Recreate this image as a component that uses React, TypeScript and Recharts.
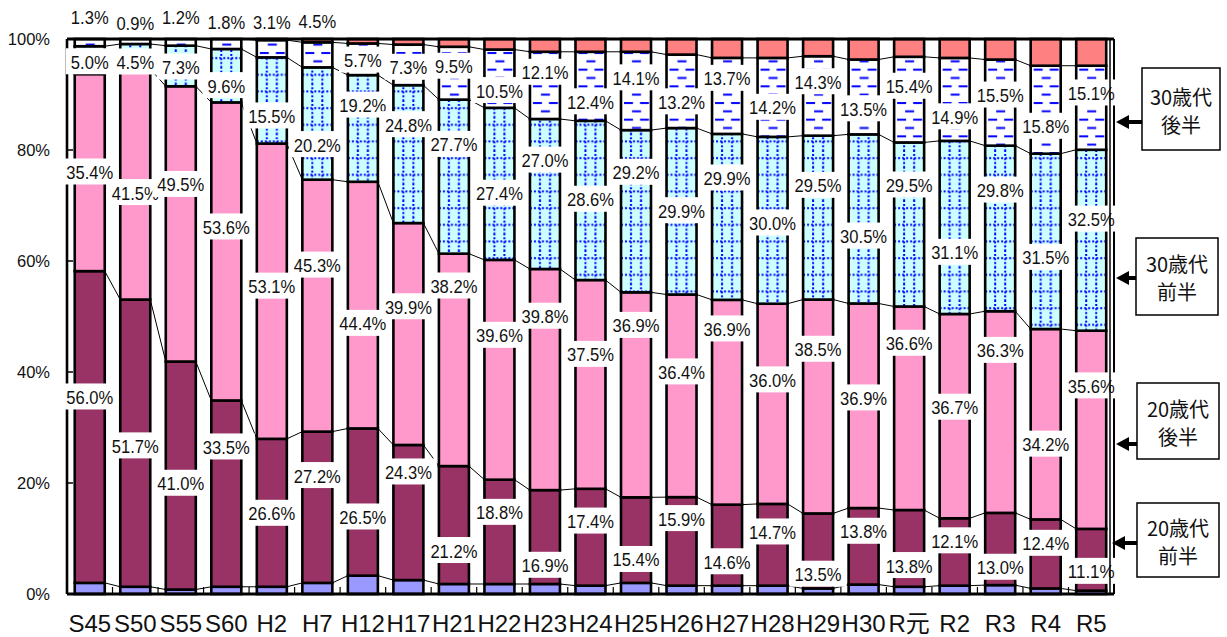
import React from 'react';
import { BarChart, Bar, XAxis, YAxis, LabelList, ReferenceLine } from 'recharts';

// ---------------- data ----------------
const categories = ['S45', 'S50', 'S55', 'S60', 'H2', 'H7', 'H12', 'H17', 'H21', 'H22', 'H23', 'H24', 'H25', 'H26', 'H27', 'H28', 'H29', 'H30', 'R元', 'R2', 'R3', 'R4', 'R5'];
const under20 = [2.0, 1.3, 0.8, 1.3, 1.3, 2.0, 3.3, 2.5, 1.8, 1.8, 1.8, 1.5, 2.0, 1.5, 1.5, 1.5, 1.0, 1.7, 1.3, 1.5, 1.6, 1.0, 0.6];
const early20s = [56.0, 51.7, 41.0, 33.5, 26.6, 27.2, 26.5, 24.3, 21.2, 18.8, 16.9, 17.4, 15.4, 15.9, 14.6, 14.7, 13.5, 13.8, 13.8, 12.1, 13.0, 12.4, 11.1];
const late20s = [35.4, 41.5, 49.5, 53.6, 53.1, 45.3, 44.4, 39.9, 38.2, 39.6, 39.8, 37.5, 36.9, 36.4, 36.9, 36.0, 38.5, 36.9, 36.6, 36.7, 36.3, 34.2, 35.6];
const early30s = [5.0, 4.5, 7.3, 9.6, 15.5, 20.2, 19.2, 24.8, 27.7, 27.4, 27.0, 28.6, 29.2, 29.9, 29.9, 30.0, 29.5, 30.5, 29.5, 31.1, 29.8, 31.5, 32.5];
const late30s = [1.3, 0.9, 1.2, 1.8, 3.1, 4.5, 5.7, 7.3, 9.5, 10.5, 12.1, 12.4, 14.1, 13.2, 13.7, 14.2, 14.3, 13.5, 15.4, 14.9, 15.5, 15.8, 15.1];
const over40 = [0, 0, 0, 0, 0.2, 0.6, 0.8, 1.0, 1.4, 1.9, 2.3, 2.3, 2.3, 2.8, 3.4, 3.4, 3.1, 3.7, 3.2, 3.4, 3.7, 4.8, 4.8];

const yTicks = [0, 0.2, 0.4, 0.6, 0.8, 1];

// label nudges (percentage points from the segment centre) – layout only
const early20sNudge = [5.5, -0.4, -1.3, 8.5, 0, 5.8, -2.6, 7.4, -4.5, 3.6, -5.0, 3.0, -3.4, 4.2, -2.9, 2.4, -4.1, 2.8, -3.0, 2.1, -3.2, 2.0, -2.0];
const late20sNudge = [0.2, -1.4, 7.2, 4.5, 1.0, 7.4, -3.2, 5.0, 13.4, 6.3, 11.5, 5.5, 12.6, 4.4, 13.3, 4.4, 10.4, 1.5, 11.8, 1.7, 11.2, -3.5, 8.0];
const early30sNudge = [-0.2, -0.9, -0.1, -1.7, -2.7, -3.7, 4.3, 5.4, 5.9, -1.6, 6.2, 0.3, 7.1, 0.2, 7.1, -0.4, 5.9, -3.0, 7.2, -4.4, 7.0, -2.8, 3.9];
const late30sNudge = [4.75, 3.45, 4.6, 4.0, 4.85, 6.15, -0.05, -0.35, 1.35, -2.05, 2.45, -2.7, 2.45, -1.8, 3.25, -1.7, 2.65, -2.05, 2.5, -3.05, 1.45, -2.9, 2.75];

// ---------------- layout ----------------
const W = 1227;
const H = 637;
const M_TOP = 39;
const X_AXIS_H = 43;
const Y_LEFT_W = 67;
const Y_RIGHT_W = 113;
const PLOT_LEFT = Y_LEFT_W;
const PLOT_W = W - Y_LEFT_W - Y_RIGHT_W;
const PLOT_H = H - M_TOP - X_AXIS_H;
const N = categories.length;
const PITCH = PLOT_W / N;
const GAP_FRAC = 0.17;
const BAR_LEFT0 = PLOT_LEFT + PITCH * GAP_FRAC;
const FONT = "'Liberation Sans', Arial, 'Noto Sans CJK JP', sans-serif";
const CJK = "'Noto Sans CJK JP', 'Liberation Sans', sans-serif";
const LABEL_FS = 18.5;

const keys = ['u20', 'e20', 'l20', 'e30', 'l30', 'o40'];
const seriesArrays = [under20, early20s, late20s, early30s, late30s, over40];
const data = categories.map((name, i) => {
  const row: any = { name };
  keys.forEach((k, j) => { row[k] = seriesArrays[j][i]; });
  return row;
});
const totals = categories.map((_, i) => seriesArrays.reduce((s, a) => s + a[i], 0));
const topFrac = seriesArrays.map((_, k) =>
  categories.map((_, i) => {
    let c = 0;
    for (let j = 0; j <= k; j++) c += seriesArrays[j][i];
    return c / totals[i];
  })
);

function idxFromX(x: number) {
  return Math.round((x - BAR_LEFT0) / PITCH);
}

function segShape(k: number, fill: string) {
  return (props: any) => {
    const { x, y, width, height } = props;
    if (x == null || !(height > 0)) return <g />;
    const i = typeof props.index === 'number' ? props.index : idxFromX(x);
    const nodes: any[] = [];
    if (k < 5 && i < N - 1) {
      const dy = (topFrac[k][i + 1] - topFrac[k][i]) * PLOT_H;
      nodes.push(
        <line key="l" x1={x + width} y1={y} x2={x + PITCH} y2={y - dy} stroke="#000" strokeWidth={1} />
      );
    }
    nodes.push(
      <rect key="r" x={x} y={y} width={width} height={height} fill={fill} stroke="#000" strokeWidth={2.6} />
    );
    return <g>{nodes}</g>;
  };
}

// narrow gothic-like metrics (em units)
function textW(s: string, fs: number) {
  let w = 0;
  for (const ch of s) {
    if (ch === '.') w += 0.27;
    else if (ch === '%') w += 0.77;
    else w += 0.5;
  }
  return w * fs;
}

function makeLabel(values: number[], nudge: number[]) {
  return (props: any) => {
    const vb = props.viewBox && props.viewBox.x != null ? props.viewBox : props;
    const { x, y, width, height } = vb;
    if (x == null) return null;
    const i = typeof props.index === 'number' ? props.index : idxFromX(x);
    const v = values[i];
    if (v == null) return null;
    const text = v.toFixed(1) + '%';
    const cx = x + width / 2;
    const cy = y + height / 2 - (nudge[i] * PLOT_H) / 100;
    const tw = textW(text, LABEL_FS);
    return (
      <g>
        <rect x={cx - tw / 2 - 5} y={cy - 13} width={tw + 10} height={26} fill="#fff" />
        <text
          x={cx}
          y={cy + 1}
          textAnchor="middle"
          dominantBaseline="central"
          fontSize={LABEL_FS}
          fontFamily={FONT}
          fill="#111"
          textLength={tw}
          lengthAdjust="spacingAndGlyphs"
        >
          {text}
        </text>
      </g>
    );
  };
}

const YTick = (props: any) => {
  const { x, y, payload } = props;
  return (
    <g>
      <text x={x} y={y} textAnchor="end" dominantBaseline="central" fontSize={16.5} fontFamily={FONT} fill="#111">
        {Math.round(payload.value * 100)}%
      </text>
      <line x1={PLOT_LEFT} x2={PLOT_LEFT + 6} y1={y} y2={y} stroke="#000" strokeWidth={1.5} />
    </g>
  );
};

const XTick = (props: any) => {
  const { x, y, payload } = props;
  return (
    <g>
      <text x={x} y={y + 38} textAnchor="middle" fontSize={24} fontFamily={FONT} fill="#111">
        {payload.value}
      </text>
      <line x1={x - PITCH / 2} x2={x - PITCH / 2} y1={y} y2={y - 7} stroke="#000" strokeWidth={1.2} />
    </g>
  );
};

const notes = [
  { l1: '30歳代', l2: '後半', bx: 1142, by: 68, bw: 78, bh: 82, ay: 122, tip: 1116 },
  { l1: '30歳代', l2: '前半', bx: 1136, by: 238, bw: 82, bh: 77, ay: 278, tip: 1116 },
  { l1: '20歳代', l2: '後半', bx: 1137, by: 383, bw: 82, bh: 76, ay: 444, tip: 1116 },
  { l1: '20歳代', l2: '前半', bx: 1137, by: 503, bw: 82, bh: 74, ay: 543, tip: 1112 },
];

export default function App() {
  return (
    <div style={{ position: 'absolute', left: 0, top: 0, width: W, height: H, background: '#fff' }}>
      <BarChart
        width={W}
        height={H}
        data={data}
        margin={{ top: M_TOP, right: 0, bottom: 0, left: 0 }}
        stackOffset="expand"
        barCategoryGap="17%"
      >
        <XAxis
          dataKey="name"
          interval={0}
          height={X_AXIS_H}
          tickLine={false}
          tickSize={0}
          tickMargin={0}
          tick={XTick}
          axisLine={{ stroke: '#000', strokeWidth: 3 }}
        />
        <YAxis
          yAxisId="left"
          width={Y_LEFT_W}
          domain={[0, 1]}
          ticks={yTicks}
          tickLine={false}
          tickSize={0}
          tickMargin={17}
          tick={YTick}
          axisLine={{ stroke: '#000', strokeWidth: 2.6 }}
        />
        <YAxis
          yAxisId="right"
          orientation="right"
          width={Y_RIGHT_W}
          domain={[0, 1]}
          tick={false}
          tickLine={false}
          axisLine={{ stroke: '#000', strokeWidth: 2 }}
        />
        <Bar yAxisId="left" dataKey="u20" stackId="a" fill="#9999FF" isAnimationActive={false} shape={segShape(0, '#9999FF')} />
        <Bar yAxisId="left" dataKey="e20" stackId="a" fill="#993366" isAnimationActive={false} shape={segShape(1, '#993366')}>
          <LabelList dataKey="e20" content={makeLabel(early20s, early20sNudge)} />
        </Bar>
        <Bar yAxisId="left" dataKey="l20" stackId="a" fill="#FF99CC" isAnimationActive={false} shape={segShape(2, '#FF99CC')}>
          <LabelList dataKey="l20" content={makeLabel(late20s, late20sNudge)} />
        </Bar>
        <Bar yAxisId="left" dataKey="e30" stackId="a" fill="#CCFFFF" isAnimationActive={false} shape={segShape(3, 'url(#pGrid)')}>
          <LabelList dataKey="e30" content={makeLabel(early30s, early30sNudge)} />
        </Bar>
        <Bar yAxisId="left" dataKey="l30" stackId="a" fill="#FFFFFF" isAnimationActive={false} shape={segShape(4, 'url(#pDash)')}>
          <LabelList dataKey="l30" content={makeLabel(late30s, late30sNudge)} />
        </Bar>
        <Bar yAxisId="left" dataKey="o40" stackId="a" fill="#FF8080" isAnimationActive={false} shape={segShape(5, '#FF8080')} />
        <ReferenceLine yAxisId="left" y={1} stroke="#000" strokeWidth={3} />
      </BarChart>
      <svg
        width={W}
        height={H}
        style={{ position: 'absolute', left: 0, top: 0, pointerEvents: 'none' }}
      >
        <defs>
          <pattern id="pGrid" patternUnits="userSpaceOnUse" x={BAR_LEFT0} y={0} width={PITCH} height={16.67}>
            <rect width={PITCH} height={16.67} fill="#CCFFFF" />
            <line x1={0} x2={PITCH} y1={8} y2={8} stroke="#0000FF" strokeWidth={2} strokeDasharray="2 2" />
            <line x1={10} x2={10} y1={0} y2={16.67} stroke="#0000FF" strokeWidth={2} strokeDasharray="2 2" />
            <line x1={20} x2={20} y1={0} y2={16.67} stroke="#0000FF" strokeWidth={2} strokeDasharray="2 2" />
          </pattern>
          <pattern id="pDash" patternUnits="userSpaceOnUse" x={BAR_LEFT0} y={0} width={PITCH} height={16.67}>
            <rect width={PITCH} height={16.67} fill="#FFFFFF" />
            <line x1={3} x2={12} y1={3} y2={3} stroke="#0000FF" strokeWidth={2} />
            <line x1={19} x2={28} y1={3} y2={3} stroke="#0000FF" strokeWidth={2} />
            <line x1={11} x2={20} y1={11.3} y2={11.3} stroke="#0000FF" strokeWidth={2} />
          </pattern>
        </defs>
        <line x1={1110} x2={1110} y1={M_TOP} y2={M_TOP + PLOT_H} stroke="#000" strokeWidth={1.5} />
        {notes.map((n, i) => (
          <g key={i}>
            <rect x={n.bx} y={n.by} width={n.bw} height={n.bh} fill="#fff" stroke="#000" strokeWidth={1.5} />
            <text x={n.bx + n.bw / 2} y={n.by + n.bh / 2 - 13} textAnchor="middle" dominantBaseline="central" fontSize={20} fontFamily={CJK} fill="#111">
              {n.l1}
            </text>
            <text x={n.bx + n.bw / 2} y={n.by + n.bh / 2 + 15} textAnchor="middle" dominantBaseline="central" fontSize={20} fontFamily={CJK} fill="#111">
              {n.l2}
            </text>
            <line x1={n.bx} x2={n.tip + 11} y1={n.ay} y2={n.ay} stroke="#000" strokeWidth={4} />
            <polygon points={`${n.tip},${n.ay} ${n.tip + 13},${n.ay - 7} ${n.tip + 13},${n.ay + 7}`} fill="#000" />
          </g>
        ))}
      </svg>
    </div>
  );
}
